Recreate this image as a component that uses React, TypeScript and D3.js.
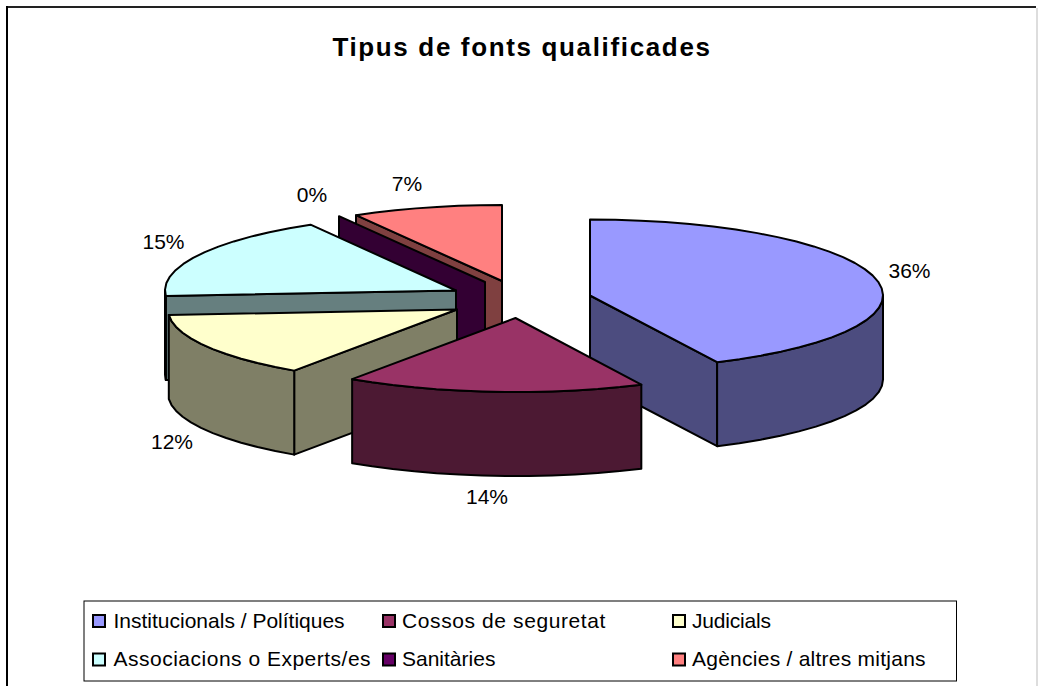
import React from "react";
import * as d3 from "d3";

const categories = ["Institucionals / Polítiques", "Cossos de seguretat", "Judicials", "Associacions o Experts/es", "Sanitàries", "Agències / altres mitjans"];
const values = [36, 14, 12, 15, 0, 7];
const topColors = ["#9999FF", "#993366", "#FFFFCC", "#CCFFFF", "#660066", "#FF8080"];
const wallColors = ["#4C4C7F", "#4C1933", "#7F7F66", "#667F7F", "#330033", "#7F4040"];
const percentLabels = ["36%", "14%", "12%", "15%", "0%", "7%"];

// layout: where each exploded slice's apex sits and where its label goes
const apexX = [590, 515.5, 457, 456, 485, 502];
const apexY = [295.5, 318, 309.5, 290.5, 282, 281];
const radiusX = [293, 290, 289, 291, 292, 292];
const labelX = [909.5, 487, 172, 163.5, 312, 407];
const labelY = [278, 504, 449, 249, 202, 191];
const paintOrder = [5, 4, 3, 2, 0, 1];
const legendX = [92, 382, 672];
const legendTextX = [113.5, 402, 692];
const legendY = [621, 659.5];
const legendSpacing = [0, 0.6, -0.2, 0.5, 0, 0.25];

const RY_BACK = 76;
const RY_FRONT = 74;
const DEPTH = 84;
const FONT = "'Liberation Sans', Arial, sans-serif";

const pieAngles = d3.pie<number>().sort(null).startAngle(0).endAngle(2 * Math.PI)(values);
const line = d3.line();

function rim(i: number, a: number): [number, number] {
  const c = Math.cos(a);
  return [apexX[i] + radiusX[i] * Math.sin(a), apexY[i] - (c > 0 ? RY_BACK : RY_FRONT) * c];
}
function arcPts(i: number, a0: number, a1: number) {
  const n = Math.max(1, Math.ceil(Math.abs(a1 - a0) / (Math.PI / 36)));
  return d3.range(n + 1).map((k) => rim(i, a0 + ((a1 - a0) * k) / n));
}
const down = (p: [number, number]): [number, number] => [p[0], p[1] + DEPTH];

function Slice({ i }: { i: number }) {
  const { startAngle: a0, endAngle: a1 } = pieAngles[i];
  const apex: [number, number] = [apexX[i], apexY[i]];
  const stroke = { stroke: "#000", strokeWidth: 2, strokeLinejoin: "round" as const };
  const face = (a: number) => {
    const p = rim(i, a);
    return line([apex, p, down(p), down(apex)]) + "Z";
  };
  const wa0 = Math.max(a0, Math.PI / 2);
  const wa1 = Math.min(a1, (3 * Math.PI) / 2);
  const showWall = wa1 > wa0;
  const wallTop = showWall ? arcPts(i, wa0, wa1) : [];
  return (
    <g>
      {a0 > Math.PI && <path d={face(a0)} fill={wallColors[i]} {...stroke} />}
      {a1 < Math.PI && <path d={face(a1)} fill={wallColors[i]} {...stroke} />}
      {showWall && (
        <path d={line([...wallTop, ...wallTop.slice().reverse().map(down)]) + "Z"} fill={wallColors[i]} {...stroke} />
      )}
      {a1 > a0 && <path d={line([apex, ...arcPts(i, a0, a1)]) + "Z"} fill={topColors[i]} {...stroke} />}
    </g>
  );
}

export default function App() {
  return (
    <svg width={1038} height={686} style={{ position: "absolute", left: 0, top: 0, background: "#fff" }} fontFamily={FONT}>
      <line x1={6} y1={7} x2={1036} y2={7} stroke="#222" strokeWidth={2} />
      <line x1={7} y1={6} x2={7} y2={686} stroke="#000" strokeWidth={2} />
      <line x1={1037} y1={8} x2={1037} y2={686} stroke="#ddd" strokeWidth={2} />
      <text x={522} y={56} textAnchor="middle" fontWeight="bold" fontSize={26} letterSpacing={1.65} fill="#000">
        Tipus de fonts qualificades
      </text>
      {paintOrder.map((i) => <Slice key={i} i={i} />)}
      {percentLabels.map((t, i) => (
        <text key={t} x={labelX[i]} y={labelY[i]} textAnchor="middle" fontSize={21} fill="#000">{t}</text>
      ))}
      <rect x={84} y={601} width={872.5} height={80} fill="none" stroke="#000" strokeWidth={1} />
      {categories.map((c, i) => {
        const col = i % 3;
        const row = Math.floor(i / 3);
        return (
          <g key={c}>
            <rect x={legendX[col] + 1} y={legendY[row] - 6} width={12} height={12} fill={topColors[i]} stroke="#000" strokeWidth={2} />
            <text x={legendTextX[col]} y={legendY[row] + 6.5} fontSize={21} letterSpacing={legendSpacing[i]} fill="#000">{c}</text>
          </g>
        );
      })}
    </svg>
  );
}
